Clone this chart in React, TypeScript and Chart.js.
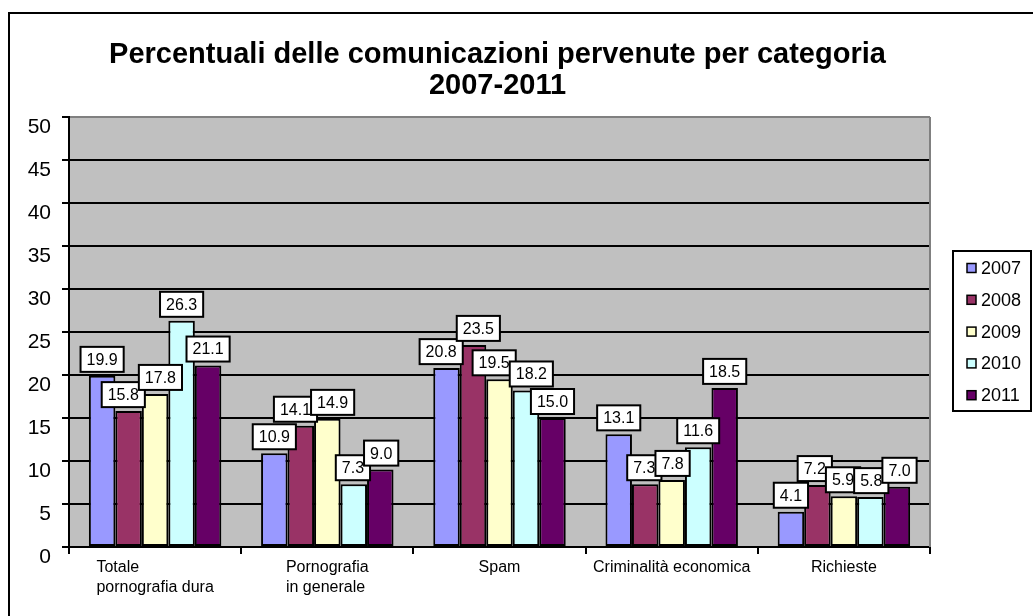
import React, { useEffect, useRef } from "react";
import { Chart, registerables } from "chart.js";

Chart.register(...registerables);

// ---------- data ----------
const categories: string[][] = [
  ["Totale", "pornografia dura"],
  ["Pornografia", "in generale"],
  ["Spam"],
  ["Criminalità economica"],
  ["Richieste"],
];
const years = ["2007", "2008", "2009", "2010", "2011"];
const values2007 = [19.9, 10.9, 20.8, 13.1, 4.1];
const values2008 = [15.8, 14.1, 23.5, 7.3, 7.2];
const values2009 = [17.8, 14.9, 19.5, 7.8, 5.9];
const values2010 = [26.3, 7.3, 18.2, 11.6, 5.8];
const values2011 = [21.1, 9.0, 15.0, 18.5, 7.0];
const seriesValues = [values2007, values2008, values2009, values2010, values2011];
const seriesColors = ["#9999FF", "#993366", "#FFFFCC", "#CCFFFF", "#660066"];
const yMin = 0;
const yMax = 50;
const yStep = 5;
const titleLines = ["Percentuali delle comunicazioni pervenute per categoria", "2007-2011"];

const FONT = '"Liberation Sans", Arial, Helvetica, sans-serif';

const excelPlugin = {
  id: "excelLook",
  beforeDraw(chart: any) {
    const { ctx, chartArea: a } = chart;
    ctx.save();
    ctx.fillStyle = "#ffffff";
    ctx.fillRect(0, 0, chart.width, chart.height);
    ctx.fillStyle = "#C0C0C0";
    ctx.fillRect(a.left, a.top, a.right - a.left, a.bottom - a.top);
    ctx.strokeStyle = "#000";
    ctx.lineWidth = 2;
    ctx.beginPath();
    ctx.moveTo(9, chart.height + 5);
    ctx.lineTo(9, 13);
    ctx.lineTo(chart.width + 5, 13);
    ctx.stroke();
    ctx.restore();
  },
  beforeDatasetsDraw(chart: any) {
    const { ctx, chartArea: a } = chart;
    ctx.save();
    ctx.strokeStyle = "#808080";
    ctx.lineWidth = 2;
    ctx.beginPath();
    ctx.moveTo(a.right, a.top);
    ctx.lineTo(a.right, a.bottom);
    ctx.stroke();
    ctx.restore();
  },
  afterDatasetsDraw(chart: any) {
    const { ctx } = chart;
    ctx.save();
    ctx.font = `16px ${FONT}`;
    ctx.textAlign = "center";
    ctx.textBaseline = "middle";
    const h = 25;
    const nCat = chart.data.labels.length;
    const nDs = chart.data.datasets.length;
    // build label boxes per category
    const boxes: any[][] = [];
    for (let i = 0; i < nCat; i++) {
      const row: any[] = [];
      for (let d = 0; d < nDs; d++) {
        const el = chart.getDatasetMeta(d).data[i];
        const txt = Number(chart.data.datasets[d].data[i]).toFixed(1);
        const w = ctx.measureText(txt).width + 12;
        row.push({ txt, cx: el.x, w, top: el.y - 4 - h, d });
      }
      boxes.push(row);
    }
    // simple collision relaxation so that label texts stay readable
    const allowed = 6;
    boxes.forEach((row) => {
      for (let it = 0; it < 30; it++) {
        for (let p = 0; p < row.length; p++) {
          for (let q = p + 1; q < row.length; q++) {
            const A = row[p], B = row[q];
            const vOv = Math.min(A.top + h, B.top + h) - Math.max(A.top, B.top);
            if (vOv <= 0) continue;
            const hOv = A.cx + A.w / 2 - (B.cx - B.w / 2) - allowed;
            if (hOv > 0) {
              A.cx -= hOv / 2;
              B.cx += hOv / 2;
            }
          }
        }
      }
    });
    for (let d = 0; d < nDs; d++) {
      for (let i = 0; i < nCat; i++) {
        const b = boxes[i][d];
        const bx = b.cx - b.w / 2;
        ctx.fillStyle = "#fff";
        ctx.fillRect(bx, b.top, b.w, h);
        ctx.strokeStyle = "#000";
        ctx.lineWidth = 2;
        ctx.strokeRect(bx, b.top, b.w, h);
        ctx.fillStyle = "#000";
        ctx.fillText(b.txt, b.cx, b.top + h / 2 + 1);
      }
    }
    ctx.restore();
  },
  afterDraw(chart: any) {
    const { ctx, chartArea: a } = chart;
    const xs = chart.scales.x;
    ctx.save();
    ctx.font = `16px ${FONT}`;
    ctx.fillStyle = "#000";
    ctx.textAlign = "left";
    ctx.textBaseline = "alphabetic";
    categories.forEach((lines, i) => {
      const cx = xs.getPixelForValue(i);
      const maxW = Math.max(...lines.map((l) => ctx.measureText(l).width));
      const left = cx - maxW / 2;
      lines.forEach((l, j) => {
        ctx.fillText(l, left, a.bottom + 25 + j * 20);
      });
    });
    ctx.font = `bold 29px ${FONT}`;
    ctx.textAlign = "center";
    const tcx = (a.left + a.right) / 2 - 2;
    titleLines.forEach((t, j) => {
      ctx.fillText(t, tcx, 63 + j * 31);
    });
    const lx = 953, ly = 251, lw = 78, lh = 160;
    ctx.fillStyle = "#fff";
    ctx.fillRect(lx, ly, lw, lh);
    ctx.strokeStyle = "#000";
    ctx.lineWidth = 2;
    ctx.strokeRect(lx, ly, lw, lh);
    ctx.font = `18px ${FONT}`;
    ctx.textBaseline = "middle";
    ctx.textAlign = "left";
    years.forEach((y, i) => {
      const cy = 268 + i * 31.8;
      ctx.fillStyle = seriesColors[i];
      ctx.fillRect(967, cy - 4.5, 9, 9);
      ctx.strokeStyle = "#000";
      ctx.lineWidth = 1.5;
      ctx.strokeRect(967, cy - 4.5, 9, 9);
      ctx.fillStyle = "#000";
      ctx.fillText(y, 981, cy + 1);
    });
    ctx.restore();
  },
};

export default function App() {
  const ref = useRef<HTMLCanvasElement | null>(null);
  useEffect(() => {
    if (!ref.current) return;
    const chart = new Chart(ref.current, {
      type: "bar",
      data: {
        labels: categories.map((c) => c.join(" ")),
        datasets: years.map((y, i) => ({
          label: y,
          data: seriesValues[i],
          backgroundColor: seriesColors[i],
          borderColor: "#000",
          borderWidth: 2,
          borderSkipped: false,
          categoryPercentage: 5 / 6.5,
          barPercentage: 1,
        })),
      },
      options: {
        responsive: false,
        animation: false,
        devicePixelRatio: 1,
        layout: { padding: { left: 0, top: 117, right: 103, bottom: 0 } },
        plugins: {
          legend: { display: false },
          title: { display: false },
          tooltip: { enabled: false },
        },
        scales: {
          x: {
            type: "category",
            offset: true,
            grid: {
              offset: true,
              drawOnChartArea: false,
              drawTicks: true,
              tickLength: 7,
              color: "#000",
              lineWidth: 2,
            },
            border: { display: true, color: "#000", width: 2 },
            ticks: { display: false },
            afterFit: (s: any) => {
              s.height = 69;
            },
          },
          y: {
            min: yMin,
            max: yMax,
            grid: {
              color: (c: any) => (c.tick && c.tick.value === yMax ? "#808080" : "#000"),
              tickColor: "#000",
              lineWidth: 2,
              drawTicks: true,
              tickLength: 7,
            },
            border: { display: true, color: "#000", width: 2 },
            ticks: {
              stepSize: yStep,
              color: "#000",
              font: { family: FONT, size: 21 },
              padding: 11,
              labelOffset: 10,
            },
            afterFit: (s: any) => {
              s.width = 69;
            },
          },
        },
      },
      plugins: [excelPlugin],
    });
    return () => chart.destroy();
  }, []);
  return (
    <div style={{ width: 1033, height: 616, overflow: "hidden" }}>
      <style>{`html,body{margin:0;padding:0;overflow:hidden;background:#fff}`}</style>
      <canvas ref={ref} width={1033} height={616} style={{ width: 1033, height: 616, display: "block" }} />
    </div>
  );
}
